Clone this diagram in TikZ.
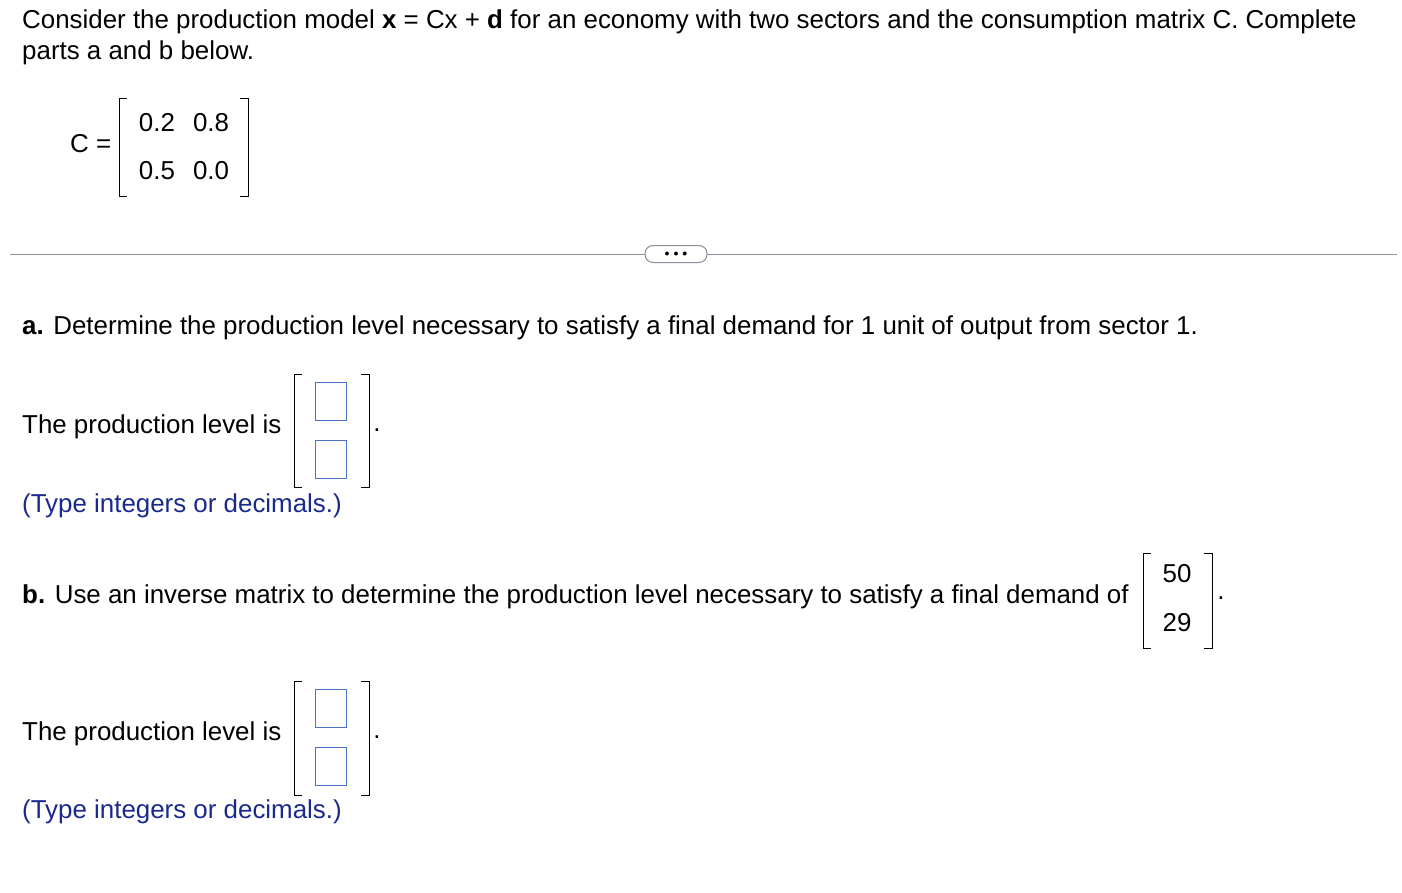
\documentclass[tikz,border=0pt]{standalone}
\usepackage{fontspec}
\setmainfont{Liberation Sans}
\definecolor{hint}{HTML}{1A2A8C}
\definecolor{boxblue}{HTML}{4A72C8}
\definecolor{rule}{HTML}{8A8F99}
\begin{document}
\begin{tikzpicture}[x=1pt,y=-1pt,
  txt/.style={anchor=west,inner sep=0pt,font=\fontsize{25.9}{30}\selectfont},
  num/.style={inner sep=0pt,font=\fontsize{25.9}{30}\selectfont},
  ansbox/.style={draw=boxblue,line width=1pt,minimum width=31pt,minimum height=38pt,inner sep=0pt},
  brk/.style={line width=1pt}]
\useasboundingbox (0,0) rectangle (1402,892);
\node[txt] (l1) at (22,22) {Consider the production model \textbf{x} = Cx + \textbf{d} for an economy with two sectors and the consumption matrix C. Complete};
\node[txt] (l2) at (22,53) {parts a and b below.};
\node[txt] (ceq) at (70,144) {C =};
\draw[brk] (127,98) -- (119,98) -- (119,196) -- (127,196);
\draw[brk] (240,98) -- (248,98) -- (248,196) -- (240,196);
\node[num] (c11) at (157,123) {0.2};
\node[num] (c12) at (211,123) {0.8};
\node[num] (c21) at (157,171) {0.5};
\node[num] (c22) at (211,171) {0.0};
\draw[rule,line width=1pt] (10,254) -- (1397,254);
\node[draw=rule,fill=white,line width=1pt,rounded corners=8pt,minimum width=62pt,minimum height=17pt,inner sep=0pt,font=\fontsize{10}{10}\selectfont] (btn) at (676,254) {$\bullet\,\bullet\,\bullet$};
\node[txt] (qa) at (22,328) {\textbf{a.} Determine the production level necessary to satisfy a final demand for 1 unit of output from sector 1.};
\node[txt] (pa) at (22,427) {The production level is};
\draw[brk] (302,374) -- (294,374) -- (294,487) -- (302,487);
\draw[brk] (361,374) -- (369,374) -- (369,487) -- (361,487);
\node[ansbox] (a1) at (331,401) {};
\node[ansbox] (a2) at (331,459) {};
\node[num] (pda) at (377,430) {.};
\node[txt,text=hint] (ta) at (22,506) {(Type integers or decimals.)};
\node[txt] (qb) at (22,597) {\textbf{b.} Use an inverse matrix to determine the production level necessary to satisfy a final demand of};
\draw[brk] (1151,553) -- (1143,553) -- (1143,648) -- (1151,648);
\draw[brk] (1204,553) -- (1212,553) -- (1212,648) -- (1204,648);
\node[num] (d1) at (1177,574) {50};
\node[num] (d2) at (1177,623) {29};
\node[num] (pdb) at (1221,598) {.};
\node[txt] (pb) at (22,734) {The production level is};
\draw[brk] (302,681) -- (294,681) -- (294,795) -- (302,795);
\draw[brk] (361,681) -- (369,681) -- (369,795) -- (361,795);
\node[ansbox] (b1) at (331,708) {};
\node[ansbox] (b2) at (331,766) {};
\node[num] (pdc) at (377,737) {.};
\node[txt,text=hint] (tb) at (22,812) {(Type integers or decimals.)};
\end{tikzpicture}
\end{document}
